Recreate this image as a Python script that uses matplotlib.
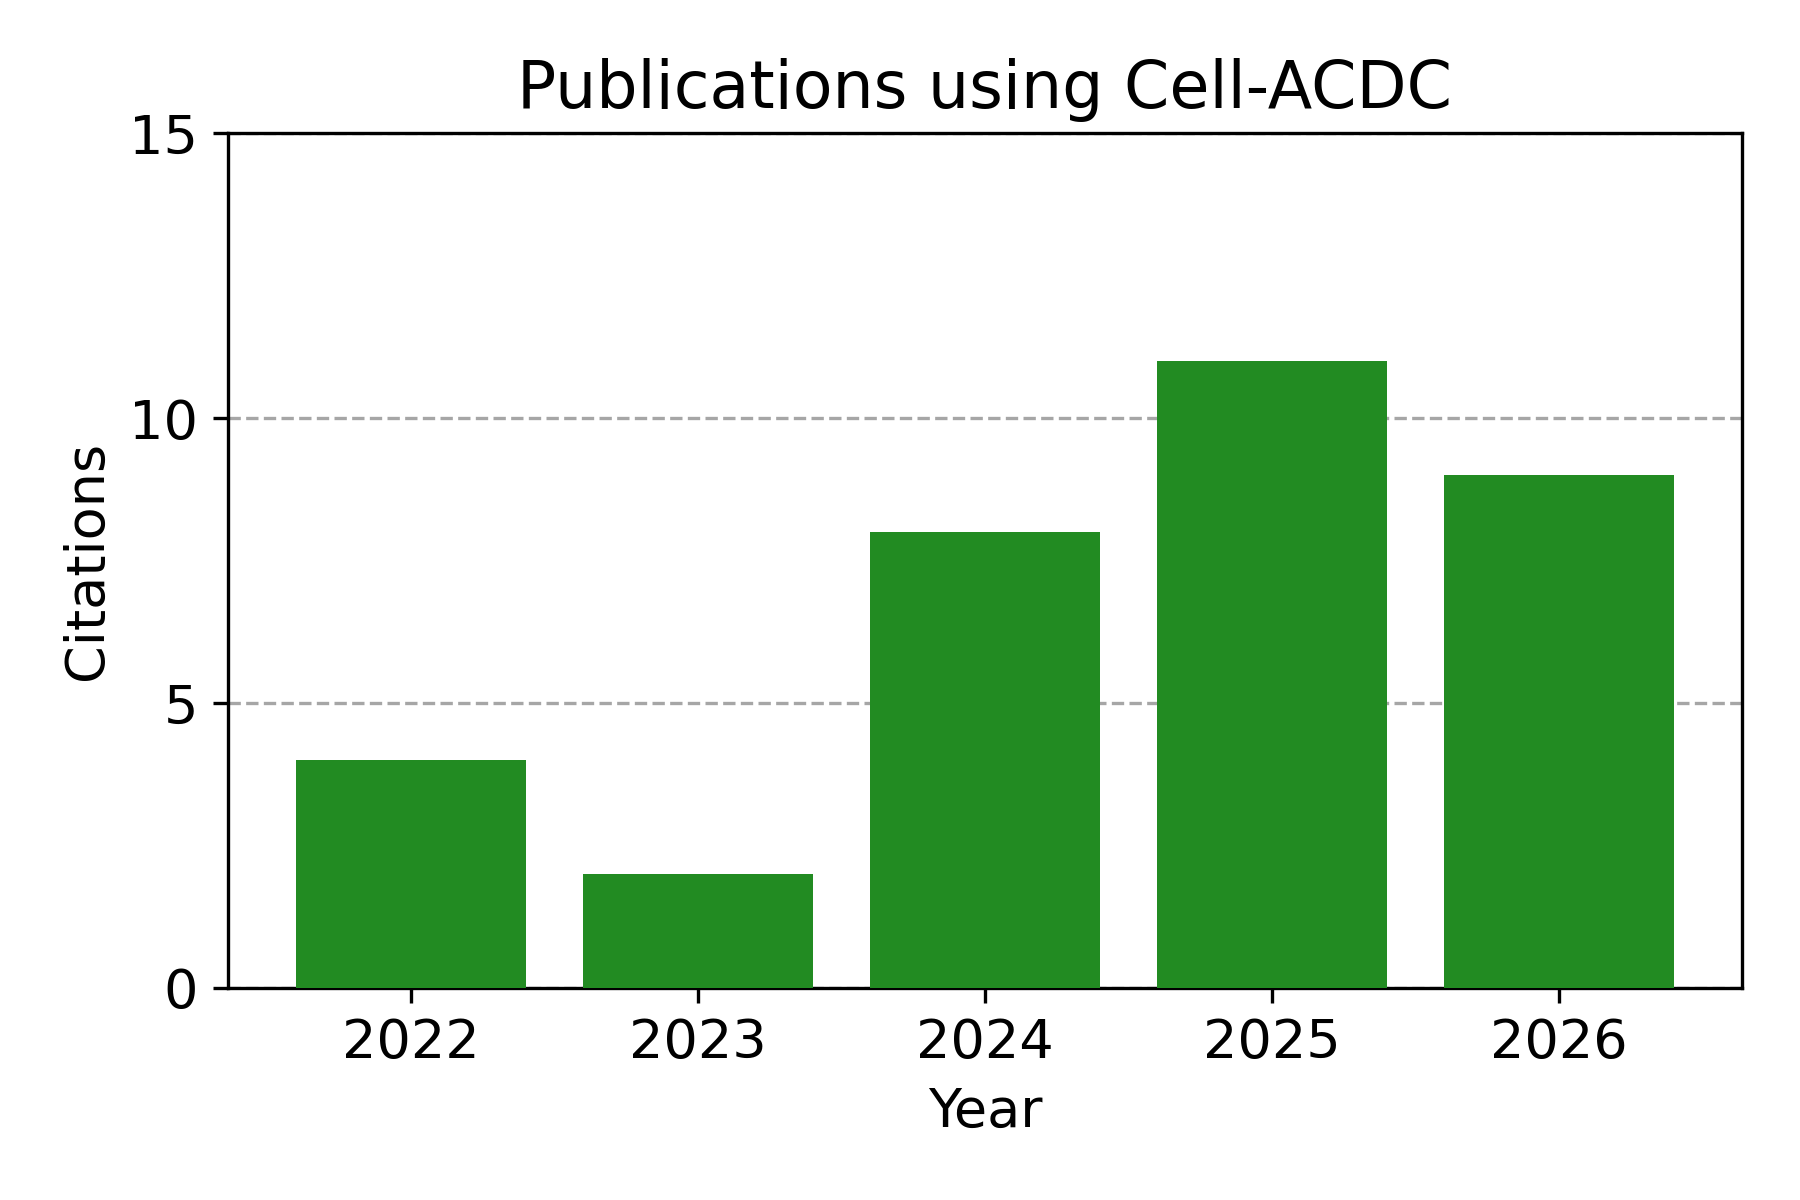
import matplotlib
matplotlib.use('Agg')
import matplotlib.pyplot as plt

# données
years = ['2022', '2023', '2024', '2025', '2026']
citations = [4, 2, 8, 11, 9]

plt.rcParams['font.size'] = 13

fig, ax = plt.subplots(figsize=(6, 4), dpi=300)
ax.bar(years, citations, color='forestgreen', zorder=3)
ax.set_ylim(0, 15)
ax.set_yticks([0, 5, 10, 15])
ax.grid(axis='y', linestyle='--', color='gray', alpha=0.7, zorder=0)
ax.set_xlabel('Year')
ax.set_ylabel('Citations')
ax.set_title('Publications using Cell-ACDC')
fig.subplots_adjust(left=0.1264, right=0.968, bottom=0.1767, top=0.889)
fig.savefig('out.png', dpi=300)
